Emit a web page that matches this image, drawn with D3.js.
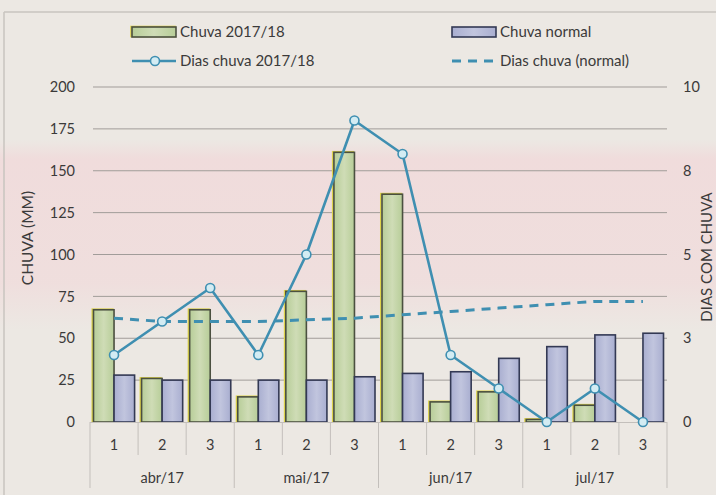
<!DOCTYPE html>
<html>
<head>
<meta charset="utf-8">
<script src="https://cdn.jsdelivr.net/npm/d3@7"></script>
<style>
  body { margin: 0; background: #ece8e3; }
  svg { display: block; font-family: Lato, "Open Sans", sans-serif; }
</style>
</head>
<body>
<svg id="chart" width="716" height="495"></svg>
<script>
// categories: month + decendio (1,2,3)
const months = ["abr/17", "mai/17", "jun/17", "jul/17"];
const decendios = ["1", "2", "3"];

// series
const chuva2017 = [67, 26, 67, 15, 78, 161, 136, 12, 18, 1.5, 10, 0];
const chuvaNormal = [28, 25, 25, 25, 25, 27, 29, 30, 38, 45, 52, 53];
const diasChuva2017 = [2, 3, 4, 2, 5, 9, 8, 2, 1, 0, 1, 0];
const diasChuvaNormal = [3.1, 3.0, 3.0, 3.0, 3.05, 3.1, 3.2, 3.3, 3.4, 3.5, 3.6, 3.6];

const leftTicks = [0, 25, 50, 75, 100, 125, 150, 175, 200];
const rightTicks = [0, 2.5, 5, 7.5, 10];

const categories = [];
months.forEach((m, i) => decendios.forEach(d => categories.push({ key: i * 3 + (+d - 1), month: m, dec: d })));

const svg = d3.select("#chart");
const margin = { top: 87, right: 49, bottom: 73, left: 90 };
const width = +svg.attr("width");
const height = +svg.attr("height");

const lineColor = "#3f8fb1";
const textColor = "#3b3a3a";
const gridColor = "#a19c99";

// paper background with the pink band
const defs = svg.append("defs");
const pink = defs.append("linearGradient").attr("id", "pink").attr("x1", 0).attr("x2", 0).attr("y1", 0).attr("y2", 1);
pink.append("stop").attr("offset", "0%").attr("stop-color", "#f1d9da").attr("stop-opacity", 0);
pink.append("stop").attr("offset", "10%").attr("stop-color", "#f1d9da").attr("stop-opacity", 0.8);
pink.append("stop").attr("offset", "75%").attr("stop-color", "#f1d9da").attr("stop-opacity", 0.65);
pink.append("stop").attr("offset", "100%").attr("stop-color", "#f1d9da").attr("stop-opacity", 0);

const greenGrad = defs.append("linearGradient").attr("id", "green").attr("x1", 0).attr("x2", 1);
greenGrad.append("stop").attr("offset", "0%").attr("stop-color", "#b7cd98");
greenGrad.append("stop").attr("offset", "50%").attr("stop-color", "#cfdcb6");
greenGrad.append("stop").attr("offset", "100%").attr("stop-color", "#b7cd98");
const blueGrad = defs.append("linearGradient").attr("id", "blue").attr("x1", 0).attr("x2", 1);
blueGrad.append("stop").attr("offset", "0%").attr("stop-color", "#a9aed0");
blueGrad.append("stop").attr("offset", "50%").attr("stop-color", "#c1c5de");
blueGrad.append("stop").attr("offset", "100%").attr("stop-color", "#a9aed0");

svg.append("rect").attr("width", width).attr("height", height).attr("fill", "#ece8e3");
svg.append("rect").attr("x", 0).attr("y", 140).attr("width", width).attr("height", 190).attr("fill", "url(#pink)");

// frame lines of the box
svg.append("line").attr("x1", 4).attr("x2", width).attr("y1", 12).attr("y2", 12)
  .attr("stroke", "#c9c4bf").attr("stroke-width", 1.5);
svg.append("line").attr("x1", 4).attr("x2", 4).attr("y1", 12).attr("y2", height)
  .attr("stroke", "#c9c4bf").attr("stroke-width", 1.5);

// scales
const x = d3.scaleBand()
  .domain(d3.range(categories.length))
  .range([margin.left, 667]);
const xSeries = d3.scaleBand()
  .domain(["chuva", "normal"])
  .range([0, x.bandwidth()])
  .paddingOuter(0.17);
const y = d3.scaleLinear().domain([0, 200]).range([422, margin.top]);
const y2 = d3.scaleLinear().domain([0, 10]).range([422, margin.top]);

const plotRight = x.range()[1];

// gridlines
svg.append("g")
  .selectAll("line")
  .data(leftTicks.slice(1))
  .join("line")
    .attr("x1", margin.left + 3)
    .attr("x2", plotRight)
    .attr("y1", d => y(d))
    .attr("y2", d => y(d))
    .attr("stroke", gridColor)
    .attr("stroke-width", 1);

// left axis
const yAxis = g => g
  .attr("transform", `translate(${margin.left - 15},0)`)
  .call(d3.axisLeft(y).tickValues(leftTicks).tickSize(0).tickPadding(0))
  .call(g => g.select(".domain").remove());
svg.append("g").call(yAxis)
  .selectAll("text").attr("font-size", 14.5).attr("fill", textColor).attr("font-family", "Lato, sans-serif");

// right axis
const y2Axis = g => g
  .attr("transform", `translate(${plotRight + 16},0)`)
  .call(d3.axisRight(y2).tickValues(rightTicks).tickFormat(d3.format(".0f")).tickSize(0).tickPadding(0))
  .call(g => g.select(".domain").remove());
svg.append("g").call(y2Axis)
  .selectAll("text").attr("font-size", 14.5).attr("fill", textColor).attr("font-family", "Lato, sans-serif");

// axis titles
svg.append("text")
  .attr("transform", `translate(33,238) rotate(-90)`)
  .attr("text-anchor", "middle")
  .attr("font-size", 15.5)
  .attr("fill", textColor)
  .text("CHUVA (MM)");
svg.append("text")
  .attr("transform", `translate(712,257) rotate(-90)`)
  .attr("text-anchor", "middle")
  .attr("font-size", 15)
  .attr("fill", textColor)
  .text("DIAS COM CHUVA");

// bars
const barG = svg.append("g");
// green bars (with slight yellow misregistration on the left)
barG.selectAll(".chuva-y")
  .data(chuva2017.map((v, i) => ({ v, i })).filter(d => d.v > 0))
  .join("rect")
    .attr("x", d => x(d.i) + xSeries("chuva") - 1.2)
    .attr("y", d => y(d.v) - 0.6)
    .attr("width", xSeries.bandwidth())
    .attr("height", d => y(0) - y(d.v))
    .attr("fill", "none")
    .attr("stroke", "#dcd24a")
    .attr("stroke-width", 1.6);
barG.selectAll(".chuva")
  .data(chuva2017.map((v, i) => ({ v, i })).filter(d => d.v > 0))
  .join("rect")
    .attr("x", d => x(d.i) + xSeries("chuva"))
    .attr("y", d => y(d.v))
    .attr("width", xSeries.bandwidth())
    .attr("height", d => y(0) - y(d.v))
    .attr("fill", "url(#green)")
    .attr("stroke", "#4b5040")
    .attr("stroke-width", 1.6);
barG.selectAll(".normal")
  .data(chuvaNormal.map((v, i) => ({ v, i })))
  .join("rect")
    .attr("x", d => x(d.i) + xSeries("normal"))
    .attr("y", d => y(d.v))
    .attr("width", xSeries.bandwidth())
    .attr("height", d => y(0) - y(d.v))
    .attr("fill", "url(#blue)")
    .attr("stroke", "#333954")
    .attr("stroke-width", 1.6);

// category axis
const sepColor = "#c3bfbb";
svg.append("line")
  .attr("x1", margin.left).attr("x2", plotRight)
  .attr("y1", y(0) + 0.5).attr("y2", y(0) + 0.5)
  .attr("stroke", sepColor);
const xAxisG = svg.append("g");
xAxisG.selectAll("line")
  .data(d3.range(categories.length + 1))
  .join("line")
    .attr("x1", d => d < categories.length ? x(d) : plotRight)
    .attr("x2", d => d < categories.length ? x(d) : plotRight)
    .attr("y1", y(0))
    .attr("y2", d => d % 3 === 0 ? 488 : 455)
    .attr("stroke", sepColor)
    .attr("stroke-width", 1);
xAxisG.selectAll(".dec")
  .data(categories)
  .join("text")
    .attr("x", d => x(d.key) + x.bandwidth() / 2)
    .attr("y", 445)
    .attr("dy", "0.35em")
    .attr("text-anchor", "middle")
    .attr("font-size", 14.5)
    .attr("fill", textColor)
    .text(d => d.dec);
xAxisG.selectAll(".month")
  .data(months)
  .join("text")
    .attr("x", (d, i) => (x(i * 3) + (i * 3 + 3 < categories.length ? x(i * 3 + 3) : plotRight)) / 2)
    .attr("y", 478)
    .attr("dy", "0.35em")
    .attr("text-anchor", "middle")
    .attr("font-size", 14.5)
    .attr("fill", textColor)
    .text(d => d);

// lines
const cx = i => x(i) + x.bandwidth() / 2;
const line = d3.line()
  .x((d, i) => cx(i))
  .y(d => y2(d));

svg.append("path")
  .datum(diasChuvaNormal)
  .attr("fill", "none")
  .attr("stroke", lineColor)
  .attr("stroke-width", 3)
  .attr("stroke-dasharray", "9,7")
  .attr("d", line);

svg.append("path")
  .datum(diasChuva2017)
  .attr("fill", "none")
  .attr("stroke", lineColor)
  .attr("stroke-width", 2.6)
  .attr("stroke-linejoin", "round")
  .attr("d", line);

svg.selectAll(".dot")
  .data(diasChuva2017)
  .join("circle")
    .attr("cx", (d, i) => cx(i))
    .attr("cy", d => y2(d))
    .attr("r", 4.5)
    .attr("fill", "#d3ecf3")
    .attr("stroke", lineColor)
    .attr("stroke-width", 1.6);

// legend
const legend = svg.append("g").attr("font-size", 15).attr("fill", textColor);
const items = [
  { label: "Chuva 2017/18", type: "bar", fill: "url(#green)", stroke: "#4b5040", x: 132, y: 32 },
  { label: "Chuva normal", type: "bar", fill: "url(#blue)", stroke: "#333954", x: 452, y: 32 },
  { label: "Dias chuva 2017/18", type: "line", x: 132, y: 61 },
  { label: "Dias chuva (normal)", type: "dash", x: 452, y: 61 }
];
items.forEach(it => {
  const g = legend.append("g");
  if (it.type === "bar") {
    if (it.label === "Chuva 2017/18") {
      g.append("rect").attr("x", it.x - 1).attr("y", it.y - 5.5).attr("width", 44).attr("height", 10)
        .attr("fill", "none").attr("stroke", "#dcd24a").attr("stroke-width", 1.6);
    }
    g.append("rect").attr("x", it.x).attr("y", it.y - 5).attr("width", 44).attr("height", 10)
      .attr("fill", it.fill).attr("stroke", it.stroke).attr("stroke-width", 1.6);
  } else if (it.type === "line") {
    g.append("line").attr("x1", it.x).attr("x2", it.x + 44).attr("y1", it.y).attr("y2", it.y)
      .attr("stroke", lineColor).attr("stroke-width", 2.6);
    g.append("circle").attr("cx", it.x + 23).attr("cy", it.y).attr("r", 4.5)
      .attr("fill", "#d3ecf3").attr("stroke", lineColor).attr("stroke-width", 1.6);
  } else {
    g.append("line").attr("x1", it.x).attr("x2", it.x + 42).attr("y1", it.y).attr("y2", it.y)
      .attr("stroke", lineColor).attr("stroke-width", 3).attr("stroke-dasharray", "9,7");
  }
  g.append("text").attr("x", it.x + 48).attr("y", it.y).attr("dy", "0.35em").text(it.label);
});
</script>
</body>
</html>
